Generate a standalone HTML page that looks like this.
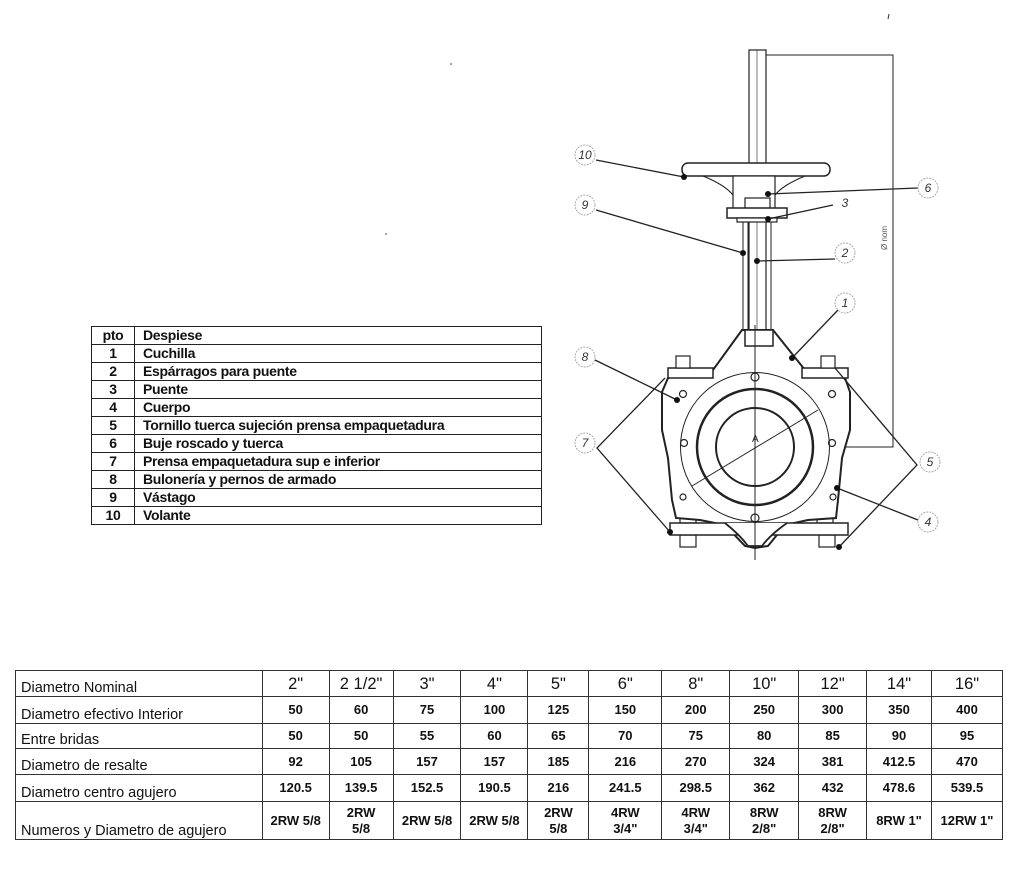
<!DOCTYPE html>
<html><head><meta charset="utf-8">
<style>
html,body{margin:0;padding:0;background:#fff;}
body{width:1024px;height:896px;position:relative;overflow:hidden;font-family:"Liberation Sans",sans-serif;}
svg{position:absolute;left:0;top:0;}
table{border-collapse:collapse;position:absolute;}
#parts{left:91px;top:326px;width:451px;font-size:14px;font-weight:bold;letter-spacing:-0.3px;}
#parts td{border:1.5px solid #222;height:17px;padding:0 0 0 8px;line-height:17px;color:#111;}
#parts td.n{width:42px;text-align:center;padding:0;}
#dims{left:15px;top:670px;width:988px;font-family:"Liberation Sans",sans-serif;}
#dims td{border:1.5px solid #333;text-align:center;font-weight:bold;font-size:13px;color:#111;padding:0;line-height:16px;}
#dims td.l{text-align:left;font-weight:normal;font-size:14.5px;padding:2px 0 0 5px;vertical-align:bottom;}
#dims tr.h td{font-weight:normal;font-size:16.5px;}
#dims tr.h td.l{font-size:14.5px;}
</style></head><body>
<svg width="1024" height="896" viewBox="0 0 1024 896">
<g fill="none" stroke="#222" stroke-width="1.2">
<!-- stem -->
<rect x="749" y="50" width="17" height="282" fill="#fff"/>
<line x1="757" y1="50" x2="757" y2="332" stroke-width="0.6"/>
<!-- dimension lines -->
<polyline points="766,55 893,55 893,447 679,447" stroke-width="1"/>
<text x="887" y="250" font-size="8" fill="#555" stroke="none" transform="rotate(-90 887 250)" font-family="Liberation Sans">Ø nom</text>
<!-- handwheel -->
<rect x="682" y="163" width="148" height="13" rx="6" fill="#fff" stroke-width="1.5"/>
<path d="M703,176 Q725,185 733,195 L775,195 Q783,185 805,176" />
<rect x="733" y="176" width="42" height="34" fill="#fff"/>
<rect x="745" y="198" width="25" height="12" fill="#fff"/>
<rect x="727" y="208" width="60" height="10" fill="#fff" stroke-width="1.5"/>
<rect x="737" y="218" width="40" height="4" fill="#fff"/>
<!-- studs -->
<rect x="743" y="222" width="5" height="110" stroke-width="1"/>
<rect x="766" y="222" width="5" height="110" stroke-width="1"/>
<!-- bottom nuts -->
<rect x="680" y="505" width="16" height="18" fill="#fff"/>
<rect x="817" y="505" width="16" height="18" fill="#fff"/>
<rect x="680" y="535" width="16" height="12" fill="#fff"/>
<rect x="819" y="535" width="16" height="12" fill="#fff"/>
<!-- body -->
<path d="M742,330 L713,370 L668,378 L662,392 L662,430 L668,458 L672,500 L676,518 L700,520 L725,525 L745,546 L755,548 L768,546 L785,525 L808,520 L836,518 L838,500 L842,458 L850,430 L850,392 L845,378 L805,370 L773,330 Z" fill="#fff" stroke-width="2"/>
<rect x="745" y="330" width="28" height="16" fill="#fff" stroke-width="1.5"/>
<!-- top flanges -->
<rect x="668" y="368" width="45" height="10" fill="#fff" stroke-width="1.5"/>
<rect x="802" y="368" width="46" height="10" fill="#fff" stroke-width="1.5"/>
<rect x="676" y="356" width="14" height="12" fill="#fff"/>
<rect x="821" y="356" width="14" height="12" fill="#fff"/>
<!-- bottom flange -->
<rect x="670" y="523" width="178" height="12" fill="#fff" stroke-width="1.5"/>
<path d="M725,523 Q740,535 748,546 L762,546 Q770,535 787,523" stroke-width="1.8" fill="#fff"/>
<!-- circles -->
<circle cx="755" cy="447" r="74.5" stroke-width="1"/>
<circle cx="755" cy="447" r="58" stroke-width="2.5"/>
<circle cx="755" cy="447" r="39" stroke-width="2"/>
<circle cx="755" cy="377" r="4"/><circle cx="755" cy="518" r="4"/>
<circle cx="683" cy="394" r="3.5"/><circle cx="832" cy="394" r="3.5"/>
<circle cx="684" cy="443" r="3.5"/><circle cx="832" cy="443" r="3.5"/>
<circle cx="683" cy="497" r="3"/><circle cx="833" cy="497" r="3"/>
<line x1="755" y1="325" x2="755" y2="560" stroke-width="1"/>
<line x1="692" y1="486" x2="818" y2="410" stroke-width="1"/>
<text x="752" y="442" font-size="10" fill="#222" stroke="none">A</text>
<!-- leaders -->
<g stroke-width="1.3">
<line x1="596" y1="160" x2="684" y2="177"/>
<line x1="596" y1="210" x2="743" y2="253"/>
<line x1="918" y1="188" x2="768" y2="194"/>
<line x1="833" y1="205" x2="768" y2="219"/>
<line x1="835" y1="259" x2="757" y2="261"/>
<line x1="838" y1="310" x2="792" y2="358"/>
<line x1="595" y1="360" x2="677" y2="400"/>
<polyline points="665,378 597,448 670,532"/>
<polyline points="835,368 917,465 839,547"/>
<line x1="918" y1="520" x2="837" y2="488"/>
</g>
<g fill="#111" stroke="none">
<circle cx="684" cy="177" r="3"/><circle cx="743" cy="253" r="3"/><circle cx="768" cy="194" r="3"/>
<circle cx="768" cy="219" r="3"/><circle cx="757" cy="261" r="3"/><circle cx="792" cy="358" r="3"/>
<circle cx="677" cy="400" r="3"/><circle cx="670" cy="532" r="3"/><circle cx="839" cy="547" r="3"/>
<circle cx="837" cy="488" r="3"/>
</g>
<!-- callout bubbles -->
<g stroke="#aaa" stroke-width="1" stroke-dasharray="2,1" fill="#fff">
<circle cx="585" cy="155" r="10"/><circle cx="585" cy="205" r="10"/><circle cx="928" cy="188" r="10"/>
<circle cx="845" cy="203" r="10" stroke="none"/><circle cx="845" cy="253" r="10"/><circle cx="845" cy="303" r="10"/>
<circle cx="585" cy="357" r="10"/><circle cx="585" cy="443" r="10"/><circle cx="930" cy="462" r="10"/>
<circle cx="928" cy="522" r="10"/>
</g>
<g fill="#333" stroke="none" font-size="12" font-style="italic" text-anchor="middle" font-family="Liberation Sans">
<text x="585" y="159">10</text><text x="585" y="209">9</text><text x="928" y="192">6</text>
<text x="845" y="207">3</text><text x="845" y="257">2</text><text x="845" y="307">1</text>
<text x="585" y="361">8</text><text x="585" y="447">7</text><text x="930" y="466">5</text>
<text x="928" y="526">4</text>
</g>
</g>
<circle cx="451" cy="64" r="0.8" fill="#333"/>
<circle cx="386" cy="234" r="0.8" fill="#333"/>
<line x1="889" y1="14" x2="888" y2="19" stroke="#333"/>
</svg>

<table id="parts">
<tr><td class="n">pto</td><td>Despiese</td></tr>
<tr><td class="n">1</td><td>Cuchilla</td></tr>
<tr><td class="n">2</td><td>Espárragos para puente</td></tr>
<tr><td class="n">3</td><td>Puente</td></tr>
<tr><td class="n">4</td><td>Cuerpo</td></tr>
<tr><td class="n">5</td><td>Tornillo tuerca sujeción prensa empaquetadura</td></tr>
<tr><td class="n">6</td><td>Buje roscado y tuerca</td></tr>
<tr><td class="n">7</td><td>Prensa empaquetadura sup e inferior</td></tr>
<tr><td class="n">8</td><td>Bulonería y pernos de armado</td></tr>
<tr><td class="n">9</td><td>Vástago</td></tr>
<tr><td class="n">10</td><td>Volante</td></tr>
</table>

<table id="dims">
<colgroup><col style="width:247px"><col style="width:67px"><col style="width:64px"><col style="width:68px"><col style="width:67px"><col style="width:61px"><col style="width:73px"><col style="width:68px"><col style="width:69px"><col style="width:68px"><col style="width:65px"><col style="width:71px"></colgroup>
<tr class="h" style="height:26px"><td class="l">Diametro Nominal</td><td>2"</td><td>2 1/2"</td><td>3"</td><td>4"</td><td>5"</td><td>6"</td><td>8"</td><td>10"</td><td>12"</td><td>14"</td><td>16"</td></tr>
<tr style="height:27px"><td class="l">Diametro efectivo Interior</td><td>50</td><td>60</td><td>75</td><td>100</td><td>125</td><td>150</td><td>200</td><td>250</td><td>300</td><td>350</td><td>400</td></tr>
<tr style="height:25px"><td class="l">Entre bridas</td><td>50</td><td>50</td><td>55</td><td>60</td><td>65</td><td>70</td><td>75</td><td>80</td><td>85</td><td>90</td><td>95</td></tr>
<tr style="height:26px"><td class="l">Diametro de resalte</td><td>92</td><td>105</td><td>157</td><td>157</td><td>185</td><td>216</td><td>270</td><td>324</td><td>381</td><td>412.5</td><td>470</td></tr>
<tr style="height:27px"><td class="l">Diametro centro agujero</td><td>120.5</td><td>139.5</td><td>152.5</td><td>190.5</td><td>216</td><td>241.5</td><td>298.5</td><td>362</td><td>432</td><td>478.6</td><td>539.5</td></tr>
<tr style="height:38px"><td class="l">Numeros y Diametro de agujero</td><td>2RW 5/8</td><td>2RW<br>5/8</td><td>2RW 5/8</td><td>2RW 5/8</td><td>2RW<br>5/8</td><td>4RW<br>3/4"</td><td>4RW<br>3/4"</td><td>8RW<br>2/8"</td><td>8RW<br>2/8"</td><td>8RW 1"</td><td>12RW 1"</td></tr>
</table>
</body></html>
